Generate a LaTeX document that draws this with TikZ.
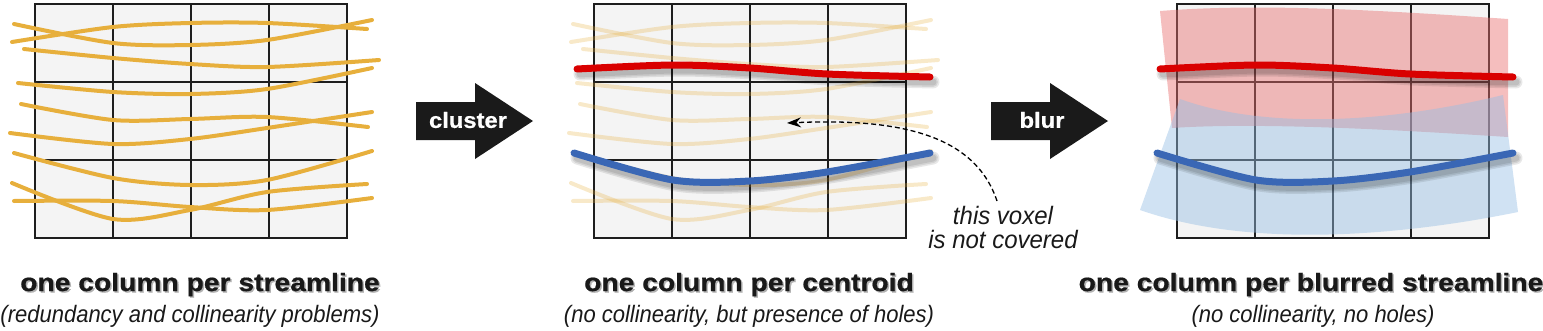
\documentclass[tikz,border=0pt]{standalone}
\usepackage{fontspec}
\setmainfont{Liberation Sans}
\newfontfamily\heavyfont[FakeBold=0.6]{Liberation Sans Bold}
\usetikzlibrary{arrows.meta}
\definecolor{fib}{RGB}{231,175,60}
\definecolor{cred}{RGB}{217,0,0}
\definecolor{cblue}{RGB}{58,103,181}
\definecolor{gridfill}{RGB}{244,244,244}
\definecolor{gridline}{RGB}{30,30,30}
\definecolor{arrowblack}{RGB}{26,26,26}
\definecolor{blurred}{RGB}{232,110,110}
\definecolor{blurblue}{RGB}{150,190,228}
\tikzset{
  fiber/.style={draw=fib, line width=4pt, line cap=round},
  fadedfiber/.style={fiber, draw opacity=0.28},
  gridbox/.style={fill=gridfill, draw=gridline, line width=2.4pt},
  gridrule/.style={draw=gridline, line width=2.4pt},
  centroid/.style={line width=7pt, line cap=round},
  shadowline/.style={draw=black, line cap=round, draw opacity=0.09},
  bigarrow/.style={fill=arrowblack},
  arrowlabel/.style={text=white, font=\fontsize{22}{26}\selectfont\heavyfont},
  titletext/.style={font=\fontsize{25}{28}\selectfont\heavyfont, anchor=base, inner sep=0pt, text=black!90},
  titleshadow/.style={titletext, text=black!30},
  subtext/.style={font=\fontsize{22}{26}\selectfont\itshape, anchor=base, inner sep=0pt, text=black!90},
  notetext/.style={font=\fontsize{24}{24}\selectfont\itshape, align=center, inner sep=0pt, text=black!90},
}
\newcommand{\myfibers}[1]{%
  \draw[#1] plot[smooth] coordinates {(14,24) (113,43) (190,45) (267,40) (372,20)};
  \draw[#1] plot[smooth] coordinates {(12,42) (113,27) (190,23) (267,23) (367,29)};
  \draw[#1] plot[smooth] coordinates {(24,49) (113,58) (190,64) (267,67) (379,60)};
  \draw[#1] plot[smooth] coordinates {(18,83) (113,92) (190,94) (267,89) (372,68)};
  \draw[#1] plot[smooth] coordinates {(21,104) (113,120) (190,119) (267,117) (368,127)};
  \draw[#1] plot[smooth] coordinates {(10,133) (113,144) (190,139) (267,128) (372,112)};
  \draw[#1] plot[smooth] coordinates {(14,153) (113,178) (190,185) (267,180) (372,151)};
  \draw[#1] plot[smooth] coordinates {(12,183) (113,219) (190,210) (267,192) (367,184)};
  \draw[#1] plot[smooth] coordinates {(14,201) (113,201) (190,207) (267,210) (372,198)};
}
\newcommand{\mygrid}[1]{%
  \begin{scope}[shift={(#1,0)}]
    \path[gridbox] (0,4) rectangle (312,238);
    \foreach \gx in {78,156,234} {\draw[gridrule] (\gx,4) -- (\gx,238);}
    \foreach \gy in {82,160} {\draw[gridrule] (0,\gy) -- (312,\gy);}
    \draw[gridrule] (0,4) rectangle (312,238);
  \end{scope}
}
\newcommand{\mycentroids}[1]{%
  \begin{scope}[shift={(#1,0)}]
    \foreach \w in {13,10,7} {
      \draw[shadowline, line width=\w pt, shift={(3,5)}] plot[smooth] coordinates {(0,69) (96,65) (173,68) (250,74) (353,77)};
      \draw[shadowline, line width=\w pt, shift={(3,5)}] plot[smooth] coordinates {(-3,153) (96,180) (173,181) (250,172) (353,153)};
    }
    \draw[centroid, draw=cred] plot[smooth] coordinates {(0,69) (96,65) (173,68) (250,74) (353,77)};
    \draw[centroid, draw=cblue] plot[smooth] coordinates {(-3,153) (96,180) (173,181) (250,172) (353,153)};
  \end{scope}
}
\begin{document}
\begin{tikzpicture}[x=1pt, y=-1pt]
\useasboundingbox (0,0) rectangle (1543,330);

% panel 1
\mygrid{35}
\myfibers{fiber}

% panel 2
\mygrid{594}
\begin{scope}[shift={(559,0)}]\myfibers{fadedfiber}\end{scope}
\mycentroids{577}

% panel 3
\mygrid{1177}
\fill[blurred, fill opacity=0.45] (1160,11) .. controls (1250,4) and (1350,8) .. (1508,19)
   -- (1508,137) .. controls (1400,130) and (1260,122) .. (1172,128) -- cycle;
\fill[blurblue, fill opacity=0.45] (1180,99) .. controls (1260,128) and (1380,125) .. (1503,95)
   -- (1518,212) .. controls (1420,232) and (1260,252) .. (1140,210) -- cycle;
\mycentroids{1160}

% process arrows
\fill[bigarrow] (416,102) -- (475,102) -- (475,83) -- (533,121) -- (475,159) -- (475,140) -- (416,140) -- cycle;
\node[arrowlabel] (cluster) at (468,120) {\scalebox{1.08}[1]{cluster}};
\fill[bigarrow] (991,102) -- (1050,102) -- (1050,83) -- (1108,121) -- (1050,159) -- (1050,140) -- (991,140) -- cycle;
\node[arrowlabel] (blur) at (1042,120) {\scalebox{1.08}[1]{blur}};

% annotation
\node[notetext] (voxel) at (1003,227) {\scalebox{1}[1.05]{this voxel}\\\scalebox{1}[1.05]{is not covered}};
\coordinate (vstart) at (997,201);
\coordinate (hole) at (787,123);
\draw[dash pattern=on 5pt off 3pt, line width=1.3pt, -{Stealth[length=14pt,width=10pt]}] (vstart) .. controls (975,135) and (900,118) .. (hole);

% titles
\node[titleshadow] (t1s) at (201.5,292.5) {\scalebox{1.13}[1]{one column per streamline}};
\node[titletext] (t1) at (200,291) {\scalebox{1.13}[1]{one column per streamline}};
\node[subtext] (s1) at (190,322) {\scalebox{1}[1.08]{(redundancy and collinearity problems)}};

\node[titleshadow] (t2s) at (750.5,292.5) {\scalebox{1.13}[1]{one column per centroid}};
\node[titletext] (t2) at (749,291) {\scalebox{1.13}[1]{one column per centroid}};
\node[subtext] (s2) at (749,322) {\scalebox{1}[1.08]{(no collinearity, but presence of holes)}};

\node[titleshadow] (t3s) at (1312.5,292.5) {\scalebox{1.13}[1]{one column per blurred streamline}};
\node[titletext] (t3) at (1311,291) {\scalebox{1.13}[1]{one column per blurred streamline}};
\node[subtext] (s3) at (1313,322) {\scalebox{1}[1.08]{(no collinearity, no holes)}};
\end{tikzpicture}
\end{document}
